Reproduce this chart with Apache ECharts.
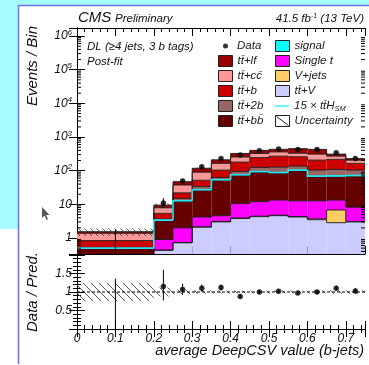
<!DOCTYPE html>
<html>
<head>
<meta charset="utf-8">
<script src="https://cdn.jsdelivr.net/npm/echarts@6/dist/echarts.min.js"></script>
<style>
html,body{margin:0;padding:0;background:#fff;}
#chart{width:369px;height:365px;}
</style>
</head>
<body>
<div id="chart"></div>
<script>
// Bin edges: one wide bin at low values, then 0.05 steps
const binEdges = [0, 0.2, 0.25, 0.3, 0.35, 0.4, 0.45, 0.5, 0.55, 0.6, 0.65, 0.7, 0.75];
const xTicks = [0, 0.1, 0.2, 0.3, 0.4, 0.5, 0.6, 0.7];

// Post-fit yields per process, listed from the bottom of the stack upwards
const ttV      = [0.10, 0.43, 0.72, 2.10, 3.00, 3.80, 4.30, 4.60, 4.20, 3.50, 2.85, 3.00];
const vJets    = [0.00, 0.01, 0.02, 0.05, 0.10, 0.15, 0.15, 0.15, 0.15, 0.20, 3.95, 0.10];
const singleT  = [0.10, 0.46, 1.26, 2.05, 1.50, 6.55, 7.55, 8.65, 8.35, 9.00, 6.60, 5.10];
const ttbb     = [0.28, 2.35, 10.3, 21.8, 47.4, 61.5, 78.0, 69.6, 85.3, 53.3, 52.6, 59.8];
const signal   = [0.02, 0.15, 0.50, 1.00, 2.00, 4.00, 5.00, 5.00, 6.00, 3.00, 4.00, 4.00];
const tt2b     = [0.02, 0.20, 2.20, 7.00, 9.00, 19.0, 30.0, 40.0, 33.0, 35.0, 39.0, 32.0];
const ttb      = [0.32, 1.80, 7.00, 18.0, 41.0, 85.0, 120., 142., 123., 102., 108., 61.0];
const ttcc     = [0.54, 2.50, 15.5, 38.0, 61.0, 75.0, 80.0, 90.0, 70.0, 104., 53.0, 40.0];
const ttlf     = [0.16, 1.60, 9.50, 28.0, 45.0, 70.0, 75.0, 70.0, 120., 118., 40.0, 23.0];

// Observed events and their error bars
const dataObs    = [0, 11, 49, 131, 231, 290, 389, 437, 428, 428, 339, 231];
const dataErrUp  = [1.8, 4.4, 8.0, 12.5, 16.0, 18.0, 20.5, 21.5, 21.0, 21.0, 19.0, 16.0];
const dataErrDn  = [0.0, 3.3, 7.0, 11.5, 15.0, 17.0, 19.5, 20.5, 20.0, 20.0, 18.0, 15.0];

// Data / prediction ratio with errors
const ratioVal   = [0, 1.15, 1.07, 1.10, 1.12, 0.88, 1.00, 1.02, 0.97, 1.00, 1.10, 1.03];
const ratioErrUp = [1.36, 0.45, 0.15, 0.10, 0.08, 0.07, 0.06, 0.05, 0.05, 0.05, 0.07, 0.07];
const ratioErrDn = [0.00, 0.38, 0.14, 0.09, 0.08, 0.06, 0.05, 0.05, 0.05, 0.05, 0.06, 0.07];

// Relative post-fit uncertainty of the total prediction
const relUnc     = [0.25, 0.12, 0.06, 0.05, 0.04, 0.04, 0.04, 0.04, 0.04, 0.04, 0.05, 0.05];

const Y_MIN = 0.335, Y_MAX = 1.73e6;
const FONT = '"Liberation Sans", Arimo, Helvetica, Arial, sans-serif';
const LINE_NAME = '15 × tt̄H_SM';

const layers = [
  { name: 'tt̄+V',   values: ttV,     color: '#ccccff' },
  { name: 'V+jets',  values: vJets,   color: '#ffcc66' },
  { name: 'Single t', values: singleT, color: '#ff00ff' },
  { name: 'tt̄+bb̄',  values: ttbb,    color: '#660000' },
  { name: 'signal',  values: signal,  color: '#00ffff', edge: '#22e6f0', edgeW: 1.6 },
  { name: 'tt̄+2b',  values: tt2b,    color: '#996666' },
  { name: 'tt̄+b',   values: ttb,     color: '#cc0000' },
  { name: 'tt̄+cc̄',  values: ttcc,    color: '#ff9999' },
  { name: 'tt̄+lf',  values: ttlf,    color: '#990000' }
];

const nBins = binEdges.length - 1;
const centers = [];
for (let i = 0; i < nBins; i++) centers.push((binEdges[i] + binEdges[i + 1]) / 2);

// cumulative stack
const cum = [];
let running = new Array(nBins).fill(0);
layers.forEach(L => {
  const base = running.slice();
  const top = running.map((v, i) => v + L.values[i]);
  cum.push({ base, top });
  running = top;
});
const total = running;

function hatchCanvas(size, color, lw) {
  const c = document.createElement('canvas');
  c.width = size; c.height = size;
  const g = c.getContext('2d');
  g.strokeStyle = color; g.lineWidth = lw;
  g.beginPath();
  g.moveTo(0, 0); g.lineTo(size, size);
  g.moveTo(-2, size - 2); g.lineTo(2, size + 2);
  g.moveTo(size - 2, -2); g.lineTo(size + 2, 2);
  g.stroke();
  return c;
}
const hatchUp = { image: hatchCanvas(6, '#333', 0.8), repeat: 'repeat' };
const hatchLo = { image: hatchCanvas(8, '#444', 0.9), repeat: 'repeat' };

const clampY = v => Math.max(v, Y_MIN);
const series = [];

// stacked histograms
layers.forEach((L, li) => {
  const base = cum[li].base, top = cum[li].top;
  series.push({
    type: 'custom', name: L.name, xAxisIndex: 0, yAxisIndex: 0,
    itemStyle: { color: L.color },
    data: base.map((b, i) => [binEdges[i], binEdges[i + 1], b, top[i]]),
    encode: { x: [0, 1], y: [3] },
    renderItem: (params, api) => {
      const i = params.dataIndex;
      const hi = top[i];
      if (hi <= Y_MIN) return null;
      const lo = clampY(base[i]);
      const pA = api.coord([binEdges[i], lo]);
      const pB = api.coord([binEdges[i + 1], hi]);
      const prevY = i > 0 ? api.coord([binEdges[i], clampY(top[i - 1])])[1] : pB[1];
      return {
        type: 'group',
        children: [
          { type: 'rect', z2: 0,
            shape: { x: pA[0], y: pB[1], width: pB[0] - pA[0], height: pA[1] - pB[1] },
            style: { fill: L.color } },
          { type: 'polyline', z2: L.edge ? 12 : 10,
            shape: { points: [[pA[0], prevY], [pA[0], pB[1]], [pB[0], pB[1]]] },
            style: { stroke: L.edge || '#1a1a1a', lineWidth: L.edgeW || 0.9, fill: null } }
        ]
      };
    }
  });
});

// uncertainty band on the total prediction
series.push({
  type: 'custom', name: 'Uncertainty', xAxisIndex: 0, yAxisIndex: 0,
  itemStyle: { color: '#555' },
  data: total.map((t, i) => [binEdges[i], binEdges[i + 1], t, relUnc[i]]),
  encode: { x: [0, 1], y: [2] },
  renderItem: (params, api) => {
    const i = params.dataIndex;
    const lo = clampY(total[i] * (1 - relUnc[i]));
    const hi = clampY(total[i] * (1 + relUnc[i]));
    const pA = api.coord([binEdges[i], lo]);
    const pB = api.coord([binEdges[i + 1], hi]);
    return { type: 'rect', z2: 15,
      shape: { x: pA[0], y: pB[1], width: pB[0] - pA[0], height: pA[1] - pB[1] },
      style: { fill: hatchUp } };
  }
});

// 15 x ttH reference line entry
series.push({
  type: 'line', name: LINE_NAME, xAxisIndex: 0, yAxisIndex: 0, data: [],
  symbol: 'none', lineStyle: { color: '#6ff2ff', width: 2 }, itemStyle: { color: '#6ff2ff' }
});

// data error bars
series.push({
  type: 'custom', name: 'dataErr', xAxisIndex: 0, yAxisIndex: 0,
  data: dataObs.map((v, i) => [centers[i], v]),
  encode: { x: [0], y: [1] },
  renderItem: (params, api) => {
    const i = params.dataIndex;
    const lo = clampY(dataObs[i] - dataErrDn[i]);
    const hi = clampY(dataObs[i] + dataErrUp[i]);
    const p0 = api.coord([centers[i], lo]);
    const p1 = api.coord([centers[i], hi]);
    return { type: 'line', z2: 20, shape: { x1: p0[0], y1: p0[1], x2: p1[0], y2: p1[1] },
      style: { stroke: '#000', lineWidth: 1 } };
  }
});
series.push({
  type: 'scatter', name: 'Data', xAxisIndex: 0, yAxisIndex: 0, z: 5,
  symbol: 'circle', symbolSize: 5.5, itemStyle: { color: '#000' },
  data: dataObs.map((v, i) => v > 0 ? [centers[i], v] : null).filter(d => d)
});

// log minor ticks (2..9 per decade) on both vertical frame edges
const minorVals = [];
for (let k = -1; k <= 6; k++) for (let m = 2; m <= 9; m++) {
  const v = m * Math.pow(10, k);
  if (v > Y_MIN && v < Y_MAX) minorVals.push(v);
}
series.push({
  type: 'custom', name: 'logMinor', xAxisIndex: 0, yAxisIndex: 0, silent: true,
  data: minorVals.map(v => [0, v]),
  encode: { x: [0], y: [1] },
  renderItem: (params, api) => {
    const v = minorVals[params.dataIndex];
    const pl = api.coord([0, v]);
    const pr = api.coord([0.75, v]);
    return { type: 'group', children: [
      { type: 'line', z2: 30, shape: { x1: pl[0], y1: pl[1], x2: pl[0] + 4, y2: pl[1] }, style: { stroke: '#000', lineWidth: 1 } },
      { type: 'line', z2: 30, shape: { x1: pr[0], y1: pr[1], x2: pr[0] - 4, y2: pr[1] }, style: { stroke: '#000', lineWidth: 1 } }
    ]};
  }
});

// ratio panel: uncertainty band
series.push({
  type: 'custom', name: 'ratioUnc', xAxisIndex: 2, yAxisIndex: 2,
  data: relUnc.map((u, i) => [binEdges[i], binEdges[i + 1], 1 - u, 1 + u]),
  encode: { x: [0, 1], y: [2, 3] },
  renderItem: (params, api) => {
    const i = params.dataIndex;
    const pA = api.coord([binEdges[i], 1 - relUnc[i]]);
    const pB = api.coord([binEdges[i + 1], 1 + relUnc[i]]);
    return { type: 'rect', z2: 5,
      shape: { x: pA[0], y: pB[1], width: pB[0] - pA[0], height: pA[1] - pB[1] },
      style: { fill: hatchLo } };
  }
});
// ratio panel: unity line
series.push({
  type: 'line', name: 'unity', xAxisIndex: 2, yAxisIndex: 2, symbol: 'none', silent: true,
  data: [[0, 1], [0.75, 1]],
  lineStyle: { color: '#000', width: 1, type: [3, 2] }
});
// ratio panel: error bars and points
series.push({
  type: 'custom', name: 'ratioErr', xAxisIndex: 2, yAxisIndex: 2,
  data: ratioVal.map((v, i) => [centers[i], v]),
  encode: { x: [0], y: [1] },
  renderItem: (params, api) => {
    const i = params.dataIndex;
    const p0 = api.coord([centers[i], Math.max(0, ratioVal[i] - ratioErrDn[i])]);
    const p1 = api.coord([centers[i], Math.min(2, ratioVal[i] + ratioErrUp[i])]);
    return { type: 'line', z2: 20, shape: { x1: p0[0], y1: p0[1], x2: p1[0], y2: p1[1] },
      style: { stroke: '#000', lineWidth: 1 } };
  }
});
series.push({
  type: 'scatter', name: 'ratio', xAxisIndex: 2, yAxisIndex: 2, z: 5,
  symbol: 'circle', symbolSize: 5.5, itemStyle: { color: '#000' },
  data: ratioVal.map((v, i) => dataObs[i] > 0 ? [centers[i], v] : null).filter(d => d)
});

// axes
const axisLineStyle = { show: true, lineStyle: { color: '#000', width: 1 } };
const labelFont = { fontFamily: FONT, fontStyle: 'italic', fontSize: 12, color: '#111' };
function xAxisCfg(grid, pos, showLabels) {
  return {
    type: 'value', gridIndex: grid, position: pos, min: 0, max: 0.75, interval: 0.1,
    axisLine: axisLineStyle, splitLine: { show: false },
    axisTick: { show: true, inside: true, length: 8, lineStyle: { color: '#000' } },
    minorTick: { show: true, splitNumber: 5, length: 4, lineStyle: { color: '#000' } },
    axisLabel: Object.assign({ show: showLabels, margin: 4, showMaxLabel: false,
      formatter: v => xTicks.indexOf(Math.round(v * 10) / 10) >= 0 && Math.abs(v * 10 - Math.round(v * 10)) < 1e-6 ? String(Math.round(v * 10) / 10) : '' }, labelFont)
  };
}
const supRich = {
  b: { fontFamily: FONT, fontStyle: 'italic', fontSize: 12, color: '#111' },
  s: { fontFamily: FONT, fontStyle: 'italic', fontSize: 8, color: '#111', padding: [0, 0, 7, 0] }
};
function logAxisCfg(pos, showLabels) {
  return {
    type: 'log', logBase: 10, gridIndex: 0, position: pos, min: Y_MIN, max: Y_MAX,
    axisLine: axisLineStyle, splitLine: { show: false },
    axisTick: { show: true, inside: true, length: 8, lineStyle: { color: '#000' } },
    axisLabel: { show: showLabels, margin: 5, showMinLabel: false, showMaxLabel: false,
      formatter: v => {
        const e = Math.round(Math.log10(v));
        if (Math.abs(Math.log10(v) - e) > 1e-6) return '';
        if (e === 0) return '{b|1}';
        if (e === 1) return '{b|10}';
        return '{b|10}{s|' + e + '}';
      },
      rich: supRich }
  };
}
function ratioAxisCfg(pos, showLabels) {
  return {
    type: 'value', gridIndex: 1, position: pos, min: 0, max: 2, interval: 0.5,
    axisLine: axisLineStyle, splitLine: { show: false },
    axisTick: { show: true, inside: true, length: 8, lineStyle: { color: '#000' } },
    minorTick: { show: true, splitNumber: 5, length: 4, lineStyle: { color: '#000' } },
    axisLabel: Object.assign({ show: showLabels, margin: 5,
      formatter: v => (v > 0.01 && v < 1.99) ? String(v) : '' }, labelFont)
  };
}

// legend: one component per entry so rows line up in two columns
const legendText = { fontFamily: FONT, fontStyle: 'italic', fontSize: 11.5, color: '#1a1a1a', lineHeight: 12,
  rich: { sub: { fontFamily: FONT, fontStyle: 'italic', fontSize: 7.5, color: '#1a1a1a', padding: [6, 0, 0, 0] } } };
const rowY = [46, 61, 76, 91, 106, 121];
const colA = ['Data', 'tt̄+lf', 'tt̄+cc̄', 'tt̄+b', 'tt̄+2b', 'tt̄+bb̄'];
const colB = ['signal', 'Single t', 'V+jets', 'tt̄+V', LINE_NAME, 'Uncertainty'];
const colorOf = {};
layers.forEach(L => colorOf[L.name] = L.color);
const legends = [];
function addLegend(name, left, row) {
  const base = { left: left, top: rowY[row] - 6, padding: 0, itemGap: 0, selectedMode: false,
    itemWidth: 14, itemHeight: 11, textStyle: legendText,
    formatter: n => n === LINE_NAME ? '15 × tt̄H{sub|SM}' : n };
  let item;
  if (name === 'Data') {
    base.itemWidth = 5; base.itemHeight = 5; base.left = left + 5;
    base.textStyle = Object.assign({}, legendText, { padding: [0, 0, 0, 4] });
    item = { name: name, icon: 'circle', itemStyle: { color: '#000' } };
  } else if (name === LINE_NAME) {
    item = { name: name, icon: 'path://M0,0L14,0L14,2L0,2Z', itemStyle: { color: '#6ff2ff', borderWidth: 0 } };
  } else if (name === 'Uncertainty') {
    item = { name: name, icon: 'path://M0,0L14,0L14,11L0,11Z M1,1L13,10',
      itemStyle: { color: 'rgba(0,0,0,0)', borderColor: '#222', borderWidth: 1 } };
  } else {
    item = { name: name, icon: 'rect', itemStyle: { color: colorOf[name], borderColor: '#222', borderWidth: 1 } };
  }
  base.data = [item];
  legends.push(base);
}
colA.forEach((n, r) => addLegend(n, 218, r));
colB.forEach((n, r) => addLegend(n, 275, r));

const graphic = [
  { type: 'rect', shape: { x: 0, y: 0, width: 369, height: 5 }, style: { fill: '#a6fcff' }, silent: true, z: -10 },
  { type: 'rect', shape: { x: 0, y: 0, width: 18, height: 229 }, style: { fill: '#a6fcff' }, silent: true, z: -10 },
  { type: 'line', shape: { x1: 18.5, y1: 5, x2: 18.5, y2: 364 }, style: { stroke: '#6f6fff', lineWidth: 1.5 }, silent: true },
  { type: 'line', shape: { x1: 18, y1: 5.5, x2: 369, y2: 5.5 }, style: { stroke: '#6f6fff', lineWidth: 1.5 }, silent: true },
  { type: 'text', x: 78, y: 18, style: { text: 'CMS', font: 'italic 15px ' + FONT, fill: '#111', verticalAlign: 'middle' } },
  { type: 'text', x: 115, y: 19, style: { text: 'Preliminary', font: 'italic 11.5px ' + FONT, fill: '#111', verticalAlign: 'middle' } },
  { type: 'text', x: 364, y: 19, style: { text: '{a|41.5 fb}{s|-1}{a| (13 TeV)}', align: 'right', verticalAlign: 'middle',
      rich: { a: { font: 'italic 11.5px ' + FONT, fill: '#111' }, s: { font: 'italic 7px ' + FONT, fill: '#111', padding: [0, 0, 6, 0] } } } },
  { type: 'text', x: 87, y: 47, style: { text: 'DL (≥4 jets, 3 b tags)', font: 'italic 11.5px ' + FONT, fill: '#111', verticalAlign: 'middle' } },
  { type: 'text', x: 87, y: 62, style: { text: 'Post-fit', font: 'italic 11.5px ' + FONT, fill: '#111', verticalAlign: 'middle' } },
  { type: 'text', x: 33, y: 26, rotation: Math.PI / 2, style: { text: 'Events / Bin', font: 'italic 15px ' + FONT, fill: '#111', align: 'right', verticalAlign: 'middle' } },
  { type: 'text', x: 33, y: 292, rotation: Math.PI / 2, style: { text: 'Data / Pred.', font: 'italic 15px ' + FONT, fill: '#111', align: 'center', verticalAlign: 'middle' } },
  { type: 'text', x: 364, y: 351, style: { text: 'average DeepCSV value (b-jets)', font: 'italic 14.5px ' + FONT, fill: '#111', align: 'right', verticalAlign: 'middle' } },
  { type: 'polygon', shape: { points: [[42, 207], [42, 218], [44.5, 215.5], [46.5, 220], [48, 219.3], [46, 215], [49.5, 215]] }, style: { fill: '#555' }, silent: true }
];

const option = {
  animation: false,
  backgroundColor: '#fff',
  grid: [
    { left: 77, top: 28, width: 288, height: 226 },
    { left: 77, top: 255, width: 288, height: 74 }
  ],
  xAxis: [xAxisCfg(0, 'bottom', false), xAxisCfg(0, 'top', false), xAxisCfg(1, 'bottom', true), xAxisCfg(1, 'top', false)],
  yAxis: [logAxisCfg('left', true), logAxisCfg('right', false), ratioAxisCfg('left', true), ratioAxisCfg('right', false)],
  legend: legends,
  graphic: graphic,
  series: series
};

const chart = echarts.init(document.getElementById('chart'), null, { renderer: 'canvas' });
chart.setOption(option);
</script>
</body>
</html>
